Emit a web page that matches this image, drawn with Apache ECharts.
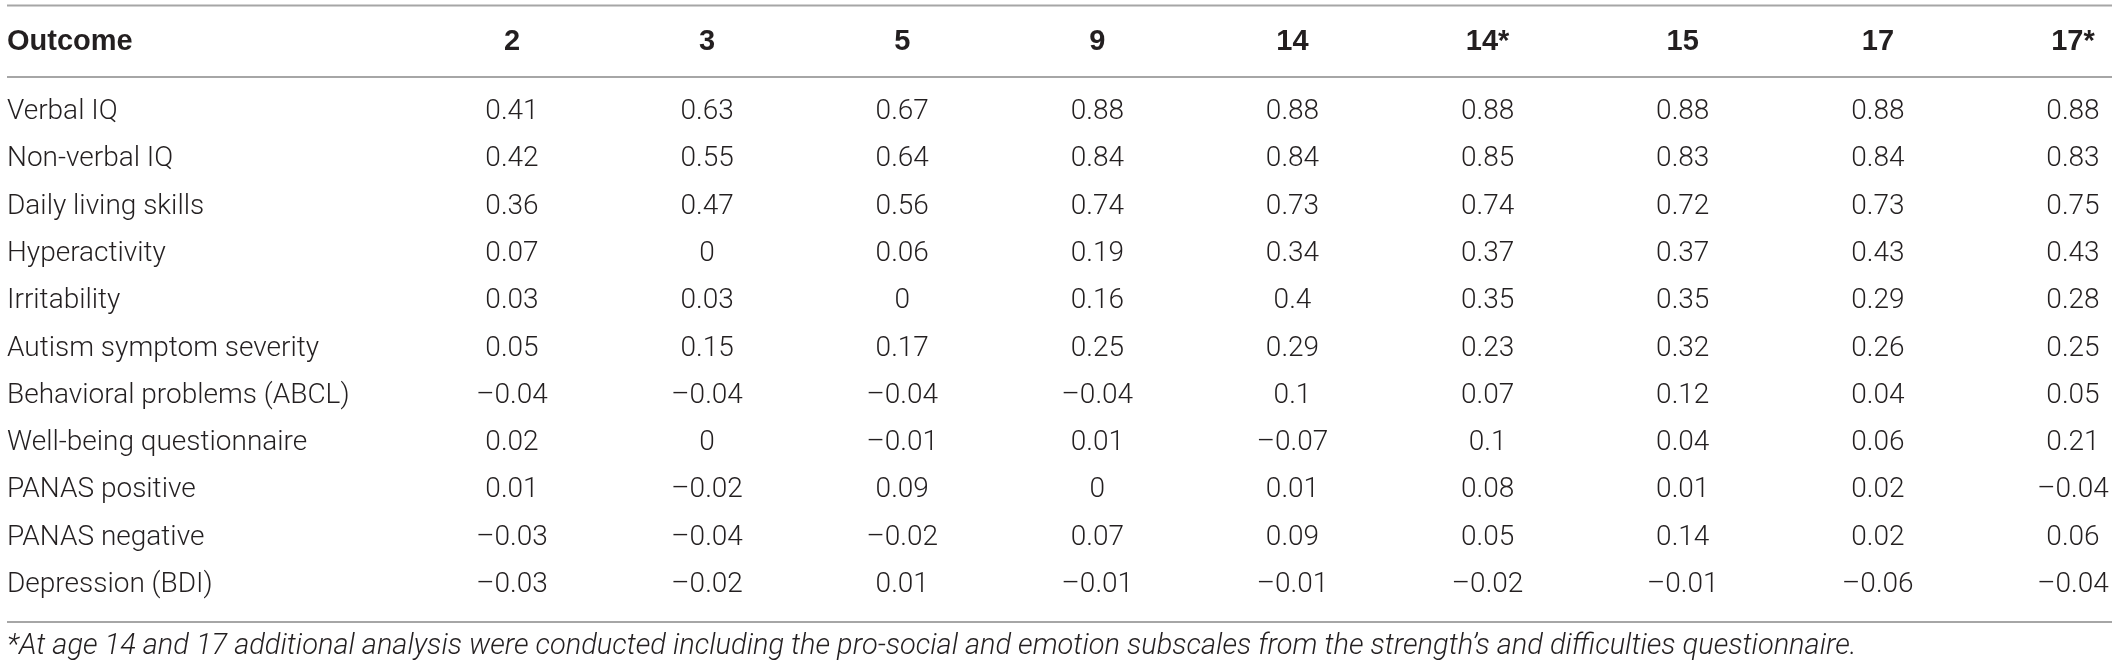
<!DOCTYPE html>
<html>
<head>
<meta charset="utf-8">
<title>Outcome correlations by age</title>
<script src="https://cdn.jsdelivr.net/npm/echarts@6/dist/echarts.min.js"></script>
<style>
html,body{margin:0;padding:0;background:#fff;}
#main{width:2118px;height:670px;}
</style>
</head>
<body>
<div id="main"></div>
<script>
// column headers (age) and row labels
var ages=['2','3','5','9','14','14*','15','17','17*'];
var outcomes=['Verbal IQ','Non-verbal IQ','Daily living skills','Hyperactivity','Irritability',
    'Autism symptom severity','Behavioral problems (ABCL)','Well-being questionnaire',
    'PANAS positive','PANAS negative','Depression (BDI)'];

// one array per outcome row, values in age order
var verbalIQ=[0.41,0.63,0.67,0.88,0.88,0.88,0.88,0.88,0.88];
var nonVerbalIQ=[0.42,0.55,0.64,0.84,0.84,0.85,0.83,0.84,0.83];
var dailyLiving=[0.36,0.47,0.56,0.74,0.73,0.74,0.72,0.73,0.75];
var hyperactivity=[0.07,0,0.06,0.19,0.34,0.37,0.37,0.43,0.43];
var irritability=[0.03,0.03,0,0.16,0.4,0.35,0.35,0.29,0.28];
var autismSeverity=[0.05,0.15,0.17,0.25,0.29,0.23,0.32,0.26,0.25];
var behavioral=[-0.04,-0.04,-0.04,-0.04,0.1,0.07,0.12,0.04,0.05];
var wellBeing=[0.02,0,-0.01,0.01,-0.07,0.1,0.04,0.06,0.21];
var panasPositive=[0.01,-0.02,0.09,0,0.01,0.08,0.01,0.02,-0.04];
var panasNegative=[-0.03,-0.04,-0.02,0.07,0.09,0.05,0.14,0.02,0.06];
var depression=[-0.03,-0.02,0.01,-0.01,-0.01,-0.02,-0.01,-0.06,-0.04];

var footnote='*At age 14 and 17 additional analysis were conducted including the pro-social and emotion subscales from the strength\u2019s and difficulties questionnaire.';

var rows=[verbalIQ,nonVerbalIQ,dailyLiving,hyperactivity,irritability,autismSeverity,
    behavioral,wellBeing,panasPositive,panasNegative,depression];

var cells=[];
for(var r=0;r<rows.length;r++){
    for(var c=0;c<rows[r].length;c++){
        cells.push([c,r,rows[r][c]]);
    }
}

// negatives use an en dash like the printed table
function fmt(v){
    if(v===0) return '0';
    return (v<0?'\u2013':'')+String(Math.abs(v));
}

var bodyFont='Roboto';
var headFont='"Liberation Sans", Arial, sans-serif';
var ink='#231f20';
var rule='#a6a6a6';

var myChart=echarts.init(document.getElementById('main'));
var option={
    backgroundColor:'#fff',
    animation:false,
    title:[
        {
            text:'Outcome',
            left:7,
            top:26,
            padding:0,
            textStyle:{fontFamily:headFont,fontWeight:'bold',fontSize:29,color:ink,lineHeight:32}
        },
        {
            text:footnote,
            left:7,
            top:631,
            padding:0,
            textStyle:{fontFamily:bodyFont,fontWeight:300,fontStyle:'italic',fontSize:29,color:ink,lineHeight:32}
        }
    ],
    grid:{left:512,right:45,top:112,bottom:85,containLabel:false},
    xAxis:{
        type:'category',
        data:ages,
        position:'top',
        boundaryGap:false,
        axisLine:{show:false},
        axisTick:{show:false},
        splitLine:{show:false},
        axisLabel:{
            interval:0,
            margin:70,
            verticalAlign:'middle',
            fontFamily:headFont,
            fontWeight:'bold',
            fontSize:29,
            color:ink
        }
    },
    yAxis:{
        type:'category',
        data:outcomes,
        inverse:true,
        boundaryGap:false,
        axisLine:{show:false},
        axisTick:{show:false},
        splitLine:{show:false},
        axisLabel:{
            interval:0,
            margin:505,
            align:'left',
            fontFamily:bodyFont,
            fontWeight:300,
            fontSize:28,
            color:ink
        }
    },
    graphic:[
        {type:'line',shape:{x1:7,y1:5.5,x2:2112,y2:5.5},style:{stroke:rule,lineWidth:2}},
        {type:'line',shape:{x1:7,y1:77,x2:2112,y2:77},style:{stroke:rule,lineWidth:2}},
        {type:'line',shape:{x1:7,y1:622,x2:2112,y2:622},style:{stroke:rule,lineWidth:2}}
    ],
    series:[{
        type:'custom',
        data:cells,
        renderItem:function(params,api){
            var p=api.coord([api.value(0),api.value(1)]);
            return {
                type:'text',
                x:p[0],
                y:p[1],
                style:{
                    text:fmt(api.value(2)),
                    align:'center',
                    verticalAlign:'middle',
                    fontFamily:bodyFont,
                    fontWeight:300,
                    fontSize:28,
                    fill:ink
                }
            };
        }
    }]
};
myChart.setOption(option);
</script>
</body>
</html>
